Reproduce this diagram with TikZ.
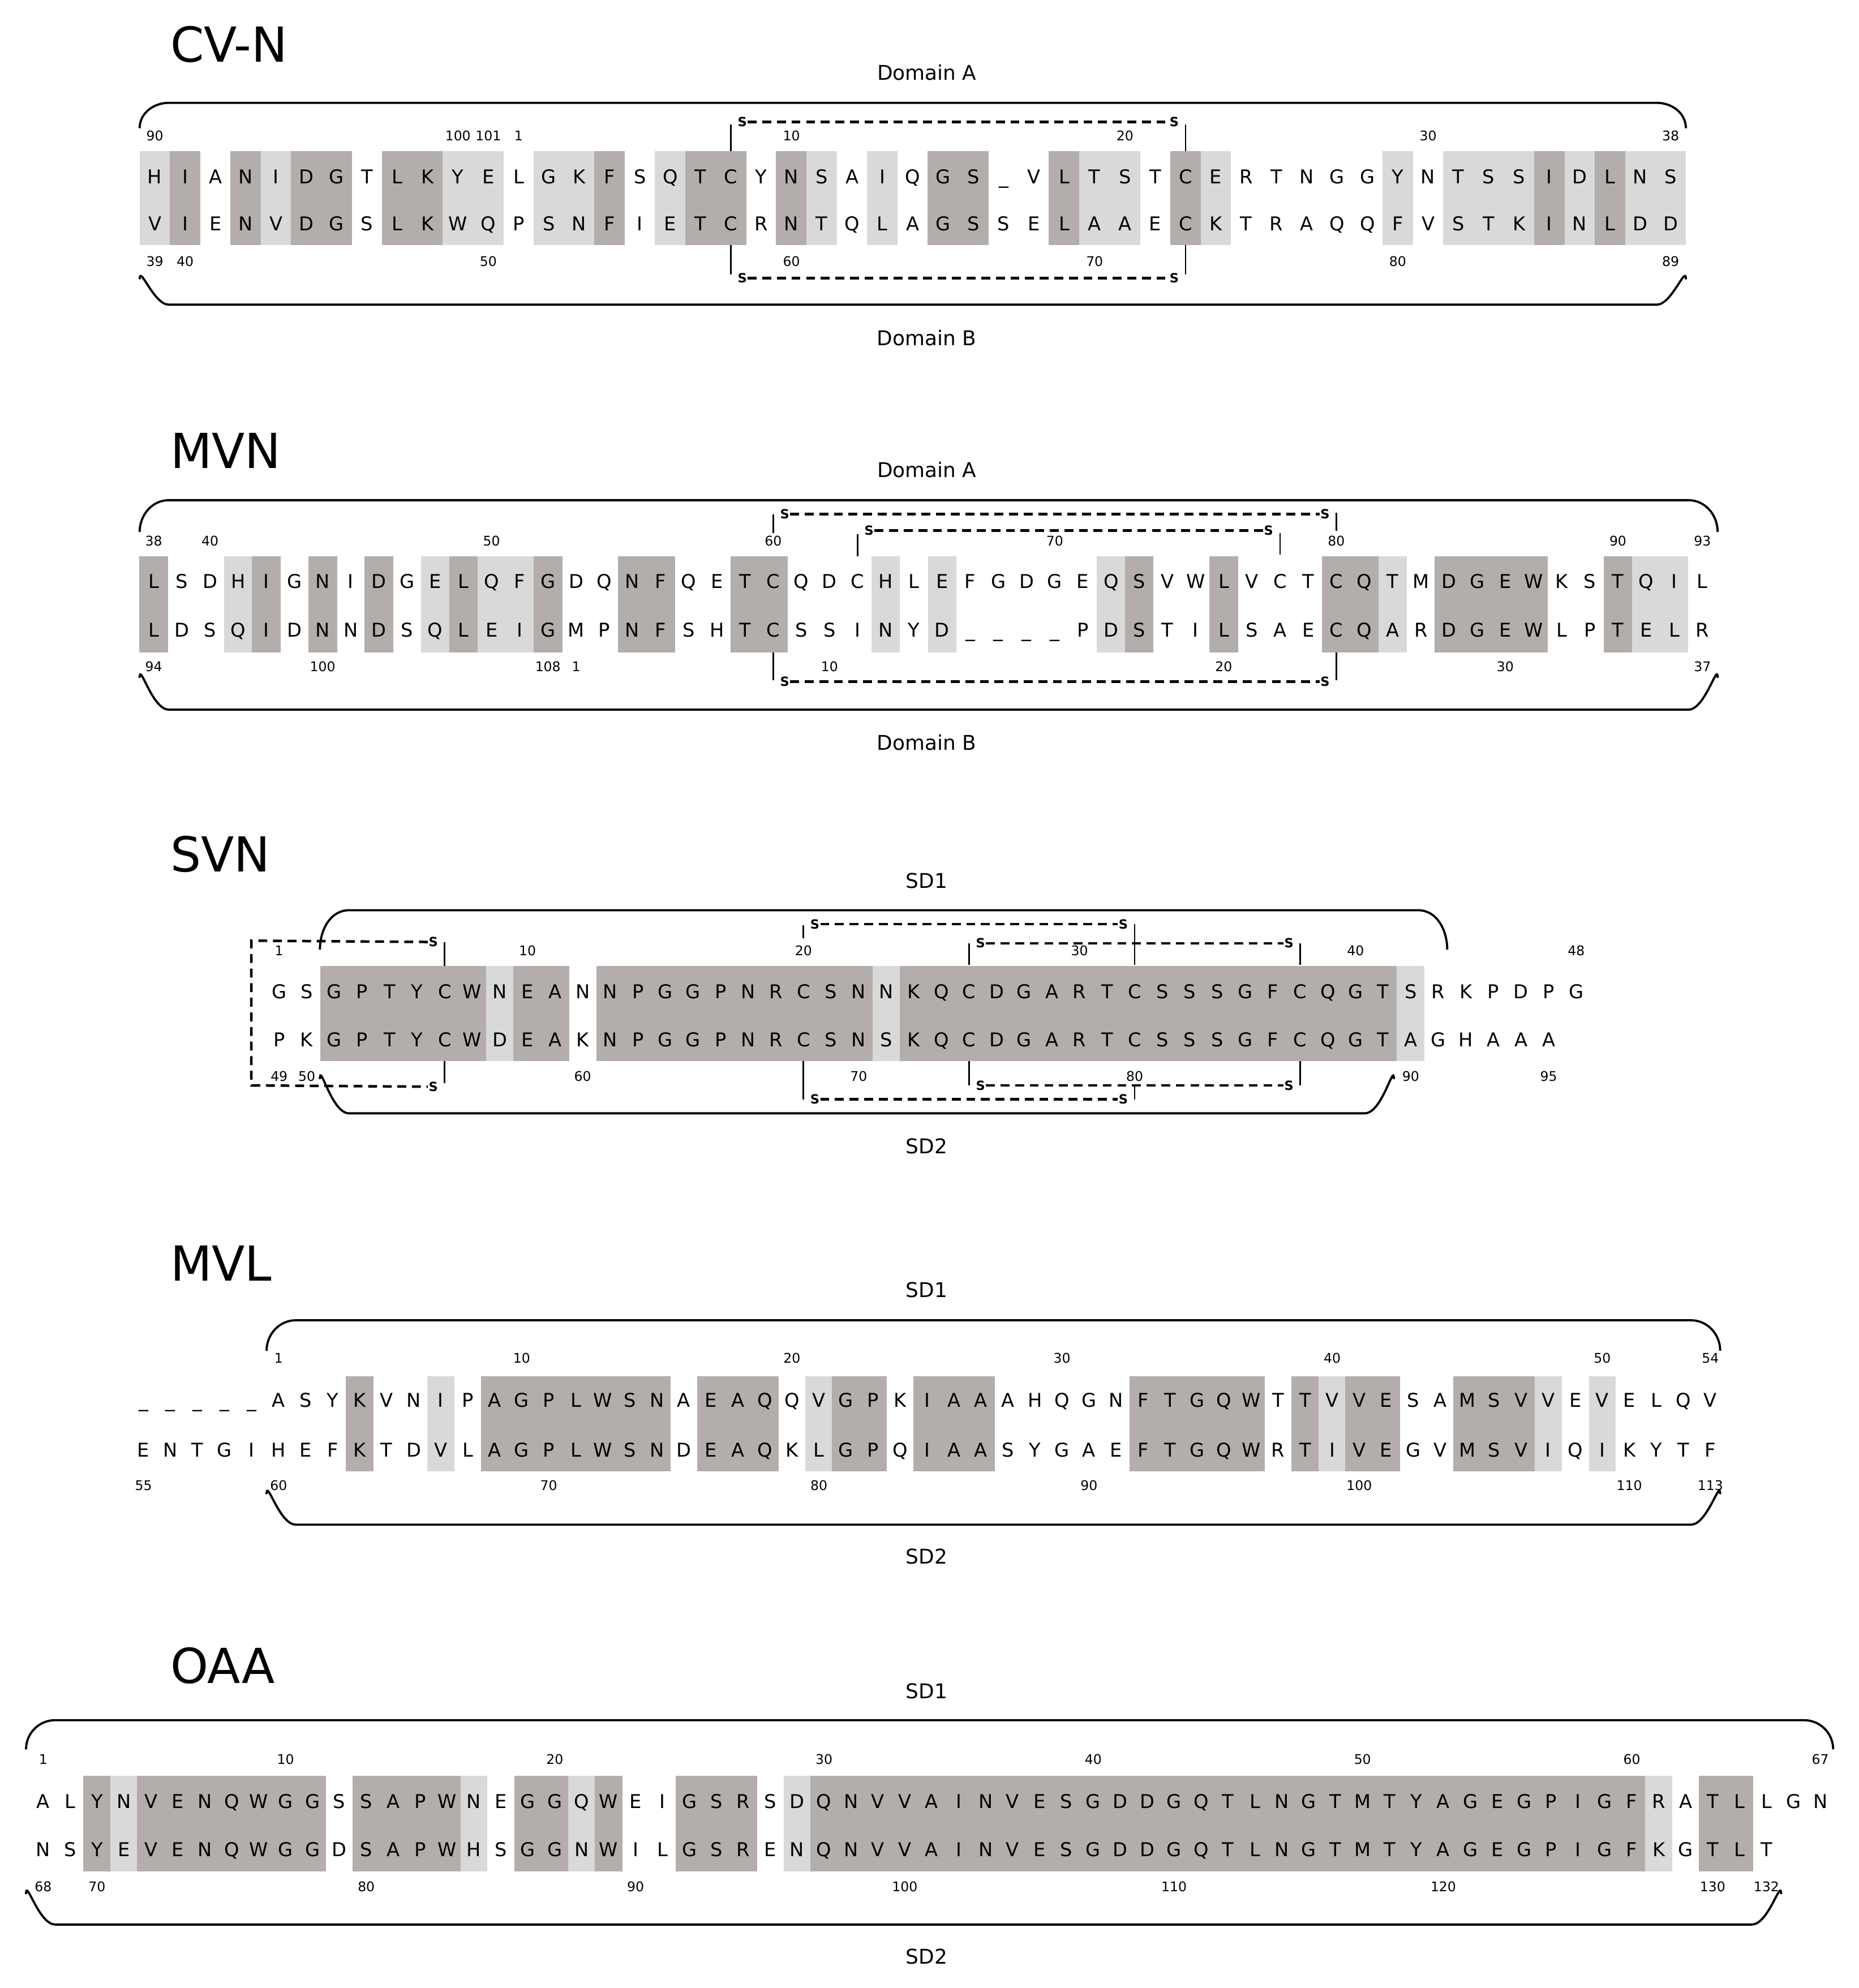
\documentclass[tikz,border=0pt]{standalone}
\usepackage{fontspec}
\setmainfont{DejaVu Sans}
\begin{document}
\begin{tikzpicture}[x=1pt,y=1pt,
  aa/.style={anchor=base,inner sep=0pt,font=\fontsize{15}{15}\selectfont},
  num/.style={inner sep=0pt,font=\fontsize{10.5}{10.5}\selectfont},
  sl/.style={inner sep=0.5pt,font=\fontsize{10}{10}\selectfont\bfseries},
  ttl/.style={anchor=west,inner sep=0pt,font=\fontsize{38}{38}\selectfont},
  dom/.style={inner sep=0pt,font=\fontsize{16}{16}\selectfont},
  br/.style={line width=1.7pt},
  sv/.style={line width=1.2pt},
  dsh/.style={line width=2pt,dash pattern=on 7pt off 4.5pt}]
\definecolor{lg}{RGB}{217,217,217}
\definecolor{dg}{RGB}{179,174,172}
\useasboundingbox (0,0) rectangle (1464,-1566);
\fill[white] (0,0) rectangle (1464,-1566);
\newcommand\seqrow[5]{\foreach \c [count=\i] in {#5} {\node[aa] (#1\i) at ({#2+#3*(\i-0.5)},{-(#4)-5.5}) {\c};}}
\newcommand\nums[5]{\foreach \n/\k [count=\i] in {#5} {\node[num] (#1\i) at ({#2+#3*(\k-0.5)},{-(#4)}) {\n};}}
\newcommand\shd[6]{\foreach \s [count=\i] in {#6} {\ifcase\s\or
  \fill[lg] ({#2+#3*(\i-1)},{-(#4)}) rectangle ({#2+#3*\i},{-(#5)});\or
  \fill[dg] ({#2+#3*(\i-1)-0.2},{-(#4)}) rectangle ({#2+#3*\i+0.2},{-(#5)});\fi}}
\newcommand\brk[4]{\draw[br] (#1,-#4) to[out=90,in=180] ({#1+23},-#3) -- ({#2-23},-#3) to[out=0,in=90] (#2,-#4);}
\newcommand\ssb[9]{\draw[sv] (#2,-#5) -- (#2,-#6); \draw[sv] (#3,-#7) -- (#3,-#8);
  \node[sl] (#1a) at ({#2+9},-#4) {S}; \node[sl] (#1b) at ({#3-9},-#4) {S};
  \draw[dsh] (#1a.east) -- (#1b.west);}

% ================= CV-N
\node[ttl] (t1) at (134,-35) {CV-N};
\node[dom] (d1a) at (730,-57) {Domain A};
\node[dom] (d1b) at (730,-266) {Domain B};
\shd{c}{110}{23.88}{119}{193}{1,2,0,2,1,2,2,0,2,2,1,1,0,1,1,2,0,1,2,2,0,2,1,0,1,0,2,2,0,0,2,1,1,0,2,1,0,0,0,0,0,1,0,1,1,1,2,1,2,1,1}
\seqrow{cvt}{110}{23.88}{139}{H,I,A,N,I,D,G,T,L,K,Y,E,L,G,K,F,S,Q,T,C,Y,N,S,A,I,Q,G,S,\_,V,L,T,S,T,C,E,R,T,N,G,G,Y,N,T,S,S,I,D,L,N,S}
\seqrow{cvb}{110}{23.88}{176}{V,I,E,N,V,D,G,S,L,K,W,Q,P,S,N,F,I,E,T,C,R,N,T,Q,L,A,G,S,S,E,L,A,A,E,C,K,T,R,A,Q,Q,F,V,S,T,K,I,N,L,D,D}
\nums{cvnt}{110}{23.88}{107}{90/1,100/11,101/12,1/13,10/22,20/33,30/43,38/51}
\nums{cvnb}{110}{23.88}{206}{39/1,40/2,50/12,60/22,70/32,80/42,89/51}
\brk{110}{1328}{81}{101}
\brk{110}{1328}{240}{220}
\ssb{cs1}{575.7}{933.9}{96}{98}{119}{98}{119}{}
\ssb{cs2}{575.7}{933.9}{219}{193}{216}{193}{216}{}

% ================= MVN
\node[ttl] (t2) at (134,-355) {MVN};
\node[dom] (d2a) at (730,-370) {Domain A};
\node[dom] (d2b) at (730,-585) {Domain B};
\shd{m}{110}{22.18}{438}{514}{2,0,0,1,2,0,2,0,2,0,1,2,1,1,2,0,0,2,2,0,0,2,2,0,0,0,1,0,1,0,0,0,0,0,1,2,0,0,2,0,0,0,2,2,1,0,2,2,2,2,0,0,2,1,1,0}
\seqrow{mvt}{110}{22.18}{458}{L,S,D,H,I,G,N,I,D,G,E,L,Q,F,G,D,Q,N,F,Q,E,T,C,Q,D,C,H,L,E,F,G,D,G,E,Q,S,V,W,L,V,C,T,C,Q,T,M,D,G,E,W,K,S,T,Q,I,L}
\seqrow{mvb}{110}{22.18}{496}{L,D,S,Q,I,D,N,N,D,S,Q,L,E,I,G,M,P,N,F,S,H,T,C,S,S,I,N,Y,D,\_,\_,\_,\_,P,D,S,T,I,L,S,A,E,C,Q,A,R,D,G,E,W,L,P,T,E,L,R}
\nums{mvnt}{110}{22.18}{426}{38/1,40/3,50/13,60/23,70/33,80/43,90/53,93/56}
\nums{mvnb}{110}{22.18}{525}{94/1,100/7,108/15,1/16,10/25,20/39,30/49,37/56}
\brk{110}{1353}{394}{419}
\brk{110}{1353}{559}{534}
\ssb{ms1}{609.1}{1052.7}{405}{405}{420}{404}{418}{}
\ssb{ms2}{675.6}{1008.3}{418}{421}{438}{420}{437}{}
\ssb{ms3}{609.1}{1052.7}{537}{514}{536}{514}{536}{}

% ================= SVN
\node[ttl] (t3) at (134,-673) {SVN};
\node[dom] (d3a) at (730,-694) {SD1};
\node[dom] (d3b) at (730,-903) {SD2};
\shd{s}{209}{21.74}{761}{836}{0,0,2,2,2,2,2,2,1,2,2,0,2,2,2,2,2,2,2,2,2,2,1,2,2,2,2,2,2,2,2,2,2,2,2,2,2,2,2,2,2,1}
\seqrow{svt}{209}{21.74}{781}{G,S,G,P,T,Y,C,W,N,E,A,N,N,P,G,G,P,N,R,C,S,N,N,K,Q,C,D,G,A,R,T,C,S,S,S,G,F,C,Q,G,T,S,R,K,P,D,P,G}
\seqrow{svb}{209}{21.74}{819}{P,K,G,P,T,Y,C,W,D,E,A,K,N,P,G,G,P,N,R,C,S,N,S,K,Q,C,D,G,A,R,T,C,S,S,S,G,F,C,Q,G,T,A,G,H,A,A,A}
\nums{svnt}{209}{21.74}{749}{1/1,10/10,20/20,30/30,40/40,48/48}
\nums{svnb}{209}{21.74}{848}{49/1,50/2,60/12,70/22,80/32,90/42,95/47}
\brk{252}{1140}{717}{748}
\brk{252}{1098}{877}{850}
\ssb{ss1}{632.9}{893.8}{728}{729}{739}{728}{760}{}
\ssb{ss2}{763.4}{1024.3}{743}{743}{760}{743}{760}{}
\ssb{ss3}{763.4}{1024.3}{855}{836}{855}{836}{855}{}
\ssb{ss4}{632.9}{893.8}{866}{836}{866}{856}{866}{}
\draw[sv] (350.3,-742) -- (350.3,-761);
\draw[sv] (350.3,-836) -- (350.3,-853);
\node[sl] (sl1) at (341.3,-742) {S};
\node[sl] (sl2) at (341.3,-856) {S};
\coordinate (lc1) at (198,-741);
\coordinate (lc2) at (198,-855);
\draw[dsh] (sl1.west) -- (lc1) -- (lc2) -- (sl2.west);

% ================= MVL
\node[ttl] (t4) at (134,-995) {MVL};
\node[dom] (d4a) at (730,-1016) {SD1};
\node[dom] (d4b) at (730,-1226) {SD2};
\shd{v}{102.4}{21.28}{1084}{1159}{0,0,0,0,0,0,0,0,2,0,0,1,0,2,2,2,2,2,2,2,0,2,2,2,0,1,2,2,0,2,2,2,0,0,0,0,0,2,2,2,2,2,0,2,1,2,2,0,0,2,2,2,1,0,1}
\seqrow{mlt}{102.4}{21.28}{1103}{\_,\_,\_,\_,\_,A,S,Y,K,V,N,I,P,A,G,P,L,W,S,N,A,E,A,Q,Q,V,G,P,K,I,A,A,A,H,Q,G,N,F,T,G,Q,W,T,T,V,V,E,S,A,M,S,V,V,E,V,E,L,Q,V}
\seqrow{mlb}{102.4}{21.28}{1142}{E,N,T,G,I,H,E,F,K,T,D,V,L,A,G,P,L,W,S,N,D,E,A,Q,K,L,G,P,Q,I,A,A,S,Y,G,A,E,F,T,G,Q,W,R,T,I,V,E,G,V,M,S,V,I,Q,I,K,Y,T,F}
\nums{mlnt}{102.4}{21.28}{1070}{1/6,10/15,20/25,30/35,40/45,50/55,54/59}
\nums{mlnb}{102.4}{21.28}{1170}{55/1,60/6,70/16,80/26,90/36,100/46,110/56,113/59}
\brk{210}{1355}{1040}{1064}
\brk{210}{1355}{1201}{1177}

% ================= OAA
\begin{scope}
\clip (100,-1280) rectangle (400,-1326);
\node[ttl] (t5) at (134,-1312) {OAA};
\end{scope}
\node[dom] (d5a) at (730,-1332) {SD1};
\node[dom] (d5b) at (730,-1541) {SD2};
\shd{o}{23.4}{21.21}{1399}{1474}{0,0,2,1,2,2,2,2,2,2,2,0,2,2,2,2,1,0,2,2,1,2,0,0,2,2,2,0,1,2,2,2,2,2,2,2,2,2,2,2,2,2,2,2,2,2,2,2,2,2,2,2,2,2,2,2,2,2,2,2,1,0,2,2}
\seqrow{oat}{23.4}{21.21}{1419}{A,L,Y,N,V,E,N,Q,W,G,G,S,S,A,P,W,N,E,G,G,Q,W,E,I,G,S,R,S,D,Q,N,V,V,A,I,N,V,E,S,G,D,D,G,Q,T,L,N,G,T,M,T,Y,A,G,E,G,P,I,G,F,R,A,T,L,L,G,N}
\seqrow{oab}{23.4}{21.21}{1457}{N,S,Y,E,V,E,N,Q,W,G,G,D,S,A,P,W,H,S,G,G,N,W,I,L,G,S,R,E,N,Q,N,V,V,A,I,N,V,E,S,G,D,D,G,Q,T,L,N,G,T,M,T,Y,A,G,E,G,P,I,G,F,K,G,T,L,T}
\nums{oant}{23.4}{21.21}{1386}{1/1,10/10,20/20,30/30,40/40,50/50,60/60,67/67}
\nums{oanb}{23.4}{21.21}{1486}{68/1,70/3,80/13,90/23,100/33,110/43,120/53,130/63,132/65}
\brk{20.5}{1444}{1355}{1378}
\brk{20.5}{1403}{1516}{1492}
\end{tikzpicture}
\end{document}
